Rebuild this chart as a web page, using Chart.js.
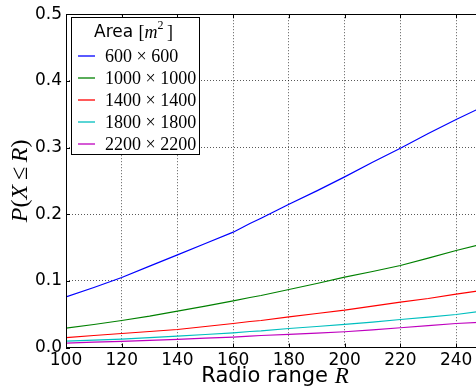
<!DOCTYPE html>
<html>
<head>
<meta charset="utf-8">
<script src="https://cdn.jsdelivr.net/npm/chart.js@4.4.1/dist/chart.umd.min.js"></script>
<style>
    html, body { margin: 0; padding: 0; background: #fff; overflow: hidden; }
    #wrap { width: 500px; height: 391px; }
</style>
</head>
<body>
<div id="wrap"><canvas id="chart-cdf"></canvas></div>
<script>
// radio range samples (x axis)
const radioRange = [100, 110, 120, 130, 140, 150, 160, 166, 170, 180, 190, 200, 210, 220, 230, 240, 250];

// P(X <= R) for each deployment area
const area600 = [0.076, 0.090, 0.105, 0.122, 0.139, 0.156, 0.173, 0.186, 0.194, 0.215, 0.235, 0.256, 0.278, 0.299, 0.321, 0.342, 0.362];
const area1000 = [0.029, 0.0345, 0.0405, 0.047, 0.0545, 0.062, 0.070, 0.075, 0.078, 0.087, 0.096, 0.1055, 0.114, 0.123, 0.134, 0.1455, 0.156];
const area1400 = [0.0147, 0.018, 0.021, 0.024, 0.027, 0.0315, 0.036, 0.039, 0.0405, 0.046, 0.051, 0.056, 0.062, 0.068, 0.0735, 0.080, 0.086];
const area1800 = [0.0097, 0.011, 0.0127, 0.0148, 0.017, 0.0195, 0.022, 0.024, 0.025, 0.0285, 0.0315, 0.0346, 0.038, 0.042, 0.0457, 0.0495, 0.055];
const area2200 = [0.0067, 0.008, 0.0092, 0.0107, 0.0122, 0.014, 0.0157, 0.017, 0.018, 0.0197, 0.0216, 0.0236, 0.0265, 0.0296, 0.0328, 0.036, 0.038];

const seriesLabels = ['600 × 600', '1000 × 1000', '1400 × 1400', '1800 × 1800', '2200 × 2200'];
const seriesColors = ['#0000ff', '#008000', '#ff0000', '#00bfbf', '#bf00bf'];
const seriesValues = [area600, area1000, area1400, area1800, area2200];

const xTicks = [100, 120, 140, 160, 180, 200, 220, 240];
const yTicks = [0.0, 0.1, 0.2, 0.3, 0.4, 0.5];

const SANS = '"DejaVu Sans", sans-serif';
const SERIF = '"Liberation Serif", serif';

// draws a run of differently styled text pieces starting at x
function drawPieces(ctx, pieces, x, y) {
    pieces.forEach(p => {
        ctx.font = p.font;
        ctx.fillText(p.text, x, y + (p.dy || 0));
        x += ctx.measureText(p.text).width;
    });
    return x;
}

function piecesWidth(ctx, pieces) {
    let w = 0;
    pieces.forEach(p => { ctx.font = p.font; w += ctx.measureText(p.text).width; });
    return w;
}

const framePlugin = {
    id: 'frame',
    beforeDatasetsDraw(chart) {
        const { ctx, chartArea: a, scales } = chart;
        ctx.save();
        ctx.strokeStyle = '#000';
        ctx.lineWidth = 1;
        // inward tick marks
        ctx.beginPath();
        xTicks.forEach(v => {
            const px = Math.round(scales.x.getPixelForValue(v)) + 0.5;
            ctx.moveTo(px, a.bottom); ctx.lineTo(px, a.bottom - 4);
            ctx.moveTo(px, a.top); ctx.lineTo(px, a.top + 4);
        });
        yTicks.forEach(v => {
            const py = Math.round(scales.y.getPixelForValue(v)) + 0.5;
            ctx.moveTo(a.left, py); ctx.lineTo(a.left + 4, py);
            ctx.moveTo(a.right, py); ctx.lineTo(a.right - 4, py);
        });
        ctx.stroke();
        ctx.restore();
    },
    afterDatasetsDraw(chart) {
        const { ctx, chartArea: a } = chart;
        ctx.save();
        ctx.strokeStyle = '#000';
        ctx.lineWidth = 1;
        ctx.strokeRect(Math.round(a.left) + 0.5, Math.round(a.top) + 0.5,
            Math.round(a.right - a.left), Math.round(a.bottom - a.top));

        // legend box
        const lx = 71, ly = 17, lw = 128, lh = 137;
        ctx.fillStyle = '#fff';
        ctx.fillRect(lx, ly, lw, lh);
        ctx.strokeRect(lx + 0.5, ly + 0.5, lw, lh);

        ctx.fillStyle = '#000';
        ctx.textBaseline = 'middle';
        ctx.textAlign = 'left';
        const title = [
            { text: 'Area ', font: '17px ' + SANS },
            { text: '[', font: '18px ' + SERIF },
            { text: 'm', font: 'italic 18px ' + SERIF },
            { text: '2', font: '12px ' + SERIF, dy: -7 },
            { text: '\u2009]', font: '18px ' + SERIF }
        ];
        drawPieces(ctx, title, 94, 33);

        seriesLabels.forEach((label, i) => {
            const ry = 56 + i * 22;
            ctx.strokeStyle = seriesColors[i];
            ctx.lineWidth = 1.3;
            ctx.beginPath();
            ctx.moveTo(78, ry);
            ctx.lineTo(95, ry);
            ctx.stroke();
            ctx.font = '18px ' + SERIF;
            ctx.fillText(label, 105, ry + 1);
        });

        // axis titles
        const xt = [
            { text: 'Radio range ', font: '21px ' + SANS },
            { text: 'R', font: 'italic 23px ' + SERIF }
        ];
        const cx = (a.left + a.right) / 2;
        drawPieces(ctx, xt, cx - piecesWidth(ctx, xt) / 2, 377);

        const yt = [
            { text: 'P', font: 'italic 24px ' + SERIF },
            { text: '(', font: '24px ' + SERIF },
            { text: 'X', font: 'italic 24px ' + SERIF },
            { text: '\u2009≤\u2009', font: '24px ' + SERIF },
            { text: 'R', font: 'italic 24px ' + SERIF },
            { text: ')', font: '24px ' + SERIF }
        ];
        ctx.translate(21, (a.top + a.bottom) / 2);
        ctx.rotate(-Math.PI / 2);
        drawPieces(ctx, yt, -piecesWidth(ctx, yt) / 2, 0);
        ctx.restore();
    }
};

const datasets = seriesValues.map((vals, i) => ({
    label: seriesLabels[i],
    data: radioRange.map((r, j) => ({ x: r, y: vals[j] })),
    borderColor: seriesColors[i],
    borderWidth: 1.2,
    pointRadius: 0,
    tension: 0,
    fill: false
}));

const gridStyle = {
    color: 'rgba(0,0,0,0.65)',
    lineWidth: 1,
    drawTicks: false
};

new Chart(document.getElementById('chart-cdf'), {
    type: 'line',
    data: { datasets },
    options: {
        responsive: true,
        maintainAspectRatio: false,
        animation: false,
        layout: { padding: { top: 12.5, right: 16, left: 0, bottom: 0 } },
        plugins: {
            legend: { display: false },
            tooltip: { enabled: false }
        },
        scales: {
            x: {
                type: 'linear',
                min: 100,
                max: 250,
                afterBuildTicks: scale => { scale.ticks = xTicks.map(v => ({ value: v })); },
                afterFit: scale => { scale.height = 43.5; },
                grid: gridStyle,
                border: { display: false, dash: [1, 2] },
                ticks: {
                    color: '#000',
                    padding: 3,
                    maxRotation: 0,
                    font: { family: SANS, size: 17 }
                }
            },
            y: {
                min: 0,
                max: 0.5,
                afterBuildTicks: scale => { scale.ticks = yTicks.map(v => ({ value: v })); },
                afterFit: scale => { scale.width = 66; },
                grid: gridStyle,
                border: { display: false, dash: [1, 2] },
                ticks: {
                    color: '#000',
                    padding: 4,
                    font: { family: SANS, size: 17 },
                    callback: v => v.toFixed(1)
                }
            }
        }
    },
    plugins: [framePlugin]
});
</script>
</body>
</html>
